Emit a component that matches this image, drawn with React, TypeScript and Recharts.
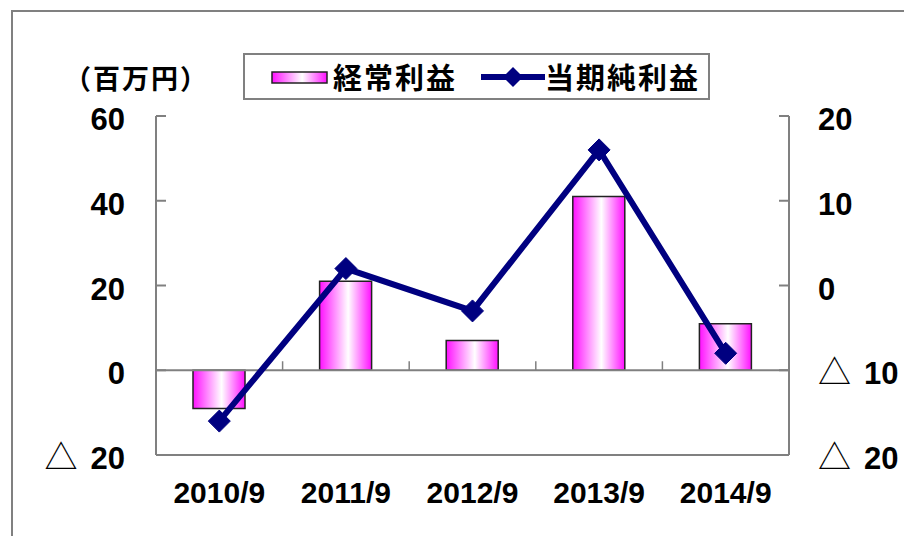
import React from 'react';
import { ComposedChart, Bar, Line, XAxis, YAxis, ReferenceLine } from 'recharts';

const categories = ['2010/9', '2011/9', '2012/9', '2013/9', '2014/9'];
const ordinaryProfit = [-9, 21, 7, 41, 11];
const netIncome = [-16, 2, -3, 16, -8];
const leftTicks = [-20, 0, 20, 40, 60];
const rightTicks = [-20, -10, 0, 10, 20];
const seriesNames = ['経常利益', '当期純利益'];
const unitLabel = '（百万円）';

const data = categories.map((c, i) => ({ name: c, ordinary: ordinaryProfit[i], net: netIncome[i] }));

const W = 904;
const H = 536;
const PLOT_LEFT = 156;
const PLOT_RIGHT = 789;
const PLOT_TOP = 116;
const PLOT_BOTTOM = 455;
const LEFT_MIN = leftTicks[0];
const LEFT_MAX = leftTicks[leftTicks.length - 1];
const ZERO_Y = PLOT_TOP + ((LEFT_MAX - 0) / (LEFT_MAX - LEFT_MIN)) * (PLOT_BOTTOM - PLOT_TOP);

const FRAME = '#808080';
const NAVY = '#000080';
const NUM_FONT = '"Liberation Sans", Arial, sans-serif';
const CJK_FONT = '"Noto Sans CJK JP", sans-serif';

const LEFT_MARGIN = 31;
const RIGHT_MARGIN = 29;

const TickLabel = ({ x, y, value, anchor }: { x: number; y: number; value: number; anchor: 'start' | 'end' }) => {
  const neg = value < 0;
  return (
    <text x={x} y={y + 3} dy="0.36em" textAnchor={anchor} fontFamily={NUM_FONT} fontWeight="bold" fontSize={31} fill="#000">
      {neg && (
        <tspan fontFamily={CJK_FONT} fontWeight="normal" fontSize={33}>
          △
        </tspan>
      )}
      <tspan dx={neg ? 13 : 0}>{Math.abs(value)}</tspan>
    </text>
  );
};

const LeftTick = (props: any) => {
  const { x, y, payload } = props;
  const edge = x + LEFT_MARGIN;
  return (
    <g>
      <line x1={edge} x2={edge + 10} y1={y} y2={y} stroke={FRAME} strokeWidth={2} />
      <TickLabel x={x} y={y} value={payload.value} anchor="end" />
    </g>
  );
};

const RightTick = (props: any) => {
  const { x, y, payload } = props;
  const edge = x - RIGHT_MARGIN;
  return (
    <g>
      <line x1={edge - 10} x2={edge} y1={y} y2={y} stroke={FRAME} strokeWidth={2} />
      <TickLabel x={x} y={y} value={payload.value} anchor="start" />
    </g>
  );
};

const BottomTick = (props: any) => {
  const { x, y, payload, index } = props;
  const half = payload && typeof payload.offset === 'number' && payload.offset > 0 ? payload.offset : (PLOT_RIGHT - PLOT_LEFT) / categories.length / 2;
  return (
    <g>
      {index > 0 && (
        <line x1={x - half} x2={x - half} y1={ZERO_Y - 9} y2={ZERO_Y} stroke={FRAME} strokeWidth={1.5} />
      )}
      <text x={x} y={y + 22} textAnchor="middle" fontFamily={NUM_FONT} fontWeight="bold" fontSize={30} fill="#000">
        {payload.value}
      </text>
    </g>
  );
};

const Diamond = (props: any) => {
  const { cx, cy, index } = props;
  if (cx == null || cy == null) return <g key={`d-${index}`} />;
  const r = 11;
  return (
    <polygon
      key={`d-${index}`}
      points={`${cx},${cy - r} ${cx + r},${cy} ${cx},${cy + r} ${cx - r},${cy}`}
      fill={NAVY}
      stroke={NAVY}
    />
  );
};

export default function App() {
  return (
    <div style={{ position: 'fixed', left: 0, top: 0, width: W, height: H, overflow: 'hidden', background: '#fff' }}>
      <div
        style={{
          position: 'absolute',
          left: 11,
          top: 10,
          width: W,
          height: H,
          borderTop: `2px solid ${FRAME}`,
          borderLeft: `2px solid ${FRAME}`,
          boxSizing: 'border-box',
        }}
      />
      <div style={{ position: 'absolute', left: 0, top: 0 }}>
        <ComposedChart
          width={W}
          height={H}
          data={data}
          margin={{ top: PLOT_TOP, bottom: 0, left: 0, right: 0 }}
          barSize={52}
        >
          <defs>
            <linearGradient id="barGrad" x1="0" y1="0" x2="1" y2="0">
              <stop offset="0" stopColor="#ff10ff" />
              <stop offset="0.55" stopColor="#ffffff" />
              <stop offset="1" stopColor="#ff10ff" />
            </linearGradient>
          </defs>
          <XAxis
            dataKey="name"
            xAxisId="bottom"
            orientation="bottom"
            height={H - PLOT_BOTTOM}
            axisLine={{ stroke: FRAME, strokeWidth: 2 }}
            tickLine={false}
            tickSize={0}
            tickMargin={26}
            tick={BottomTick}
            interval={0}
          />
          <XAxis
            dataKey="name"
            xAxisId="top"
            orientation="top"
            height={0}
            axisLine={{ stroke: FRAME, strokeWidth: 2 }}
            tickLine={false}
            tick={false}
          />
          <YAxis
            yAxisId="left"
            orientation="left"
            width={PLOT_LEFT}
            domain={[LEFT_MIN, LEFT_MAX]}
            ticks={leftTicks}
            axisLine={{ stroke: FRAME, strokeWidth: 2 }}
            tickLine={false}
            tickSize={0}
            tickMargin={LEFT_MARGIN}
            tick={LeftTick}
            interval={0}
          />
          <YAxis
            yAxisId="right"
            orientation="right"
            width={W - PLOT_RIGHT}
            domain={[rightTicks[0], rightTicks[rightTicks.length - 1]]}
            ticks={rightTicks}
            axisLine={{ stroke: FRAME, strokeWidth: 2 }}
            tickLine={false}
            tickSize={0}
            tickMargin={RIGHT_MARGIN}
            tick={RightTick}
            interval={0}
          />
          <ReferenceLine y={0} yAxisId="left" xAxisId="bottom" stroke={FRAME} strokeWidth={2} />
          <Bar
            dataKey="ordinary"
            name={seriesNames[0]}
            xAxisId="bottom"
            yAxisId="left"
            fill="url(#barGrad)"
            stroke="#222"
            strokeWidth={1.5}
            isAnimationActive={false}
          />
          <Line
            dataKey="net"
            name={seriesNames[1]}
            xAxisId="bottom"
            yAxisId="right"
            stroke={NAVY}
            strokeWidth={6}
            dot={Diamond}
            activeDot={false}
            isAnimationActive={false}
          />
        </ComposedChart>
      </div>
      <div
        style={{
          position: 'absolute',
          left: 64,
          top: 63,
          fontFamily: CJK_FONT,
          fontWeight: 'bold',
          fontSize: 27,
          letterSpacing: 2,
          lineHeight: '30px',
          color: '#000',
          whiteSpace: 'nowrap',
        }}
      >
        {unitLabel}
      </div>
      <div
        style={{
          position: 'absolute',
          left: 243,
          top: 53,
          width: 467,
          height: 47,
          border: `2px solid ${FRAME}`,
          boxSizing: 'border-box',
          background: '#fff',
          fontFamily: CJK_FONT,
          fontWeight: 'bold',
          fontSize: 29,
          letterSpacing: 2,
          color: '#000',
        }}
      >
        <svg style={{ position: 'absolute', left: 26, top: 15 }} width={58} height={16}>
          <defs>
            <linearGradient id="legGrad" x1="0" y1="0" x2="1" y2="0">
              <stop offset="0" stopColor="#ff10ff" />
              <stop offset="0.55" stopColor="#ffffff" />
              <stop offset="1" stopColor="#ff10ff" />
            </linearGradient>
          </defs>
          <rect x={1} y={2} width={55} height={11} fill="url(#legGrad)" stroke="#222" strokeWidth={1.5} />
        </svg>
        <div style={{ position: 'absolute', left: 88, top: 0, lineHeight: '43px', whiteSpace: 'nowrap' }}>
          {seriesNames[0]}
        </div>
        <svg style={{ position: 'absolute', left: 236, top: 8 }} width={64} height={28}>
          <line x1={0} x2={64} y1={14} y2={14} stroke={NAVY} strokeWidth={6} />
          <polygon points="32,4 42,14 32,24 22,14" fill={NAVY} />
        </svg>
        <div style={{ position: 'absolute', left: 300, top: 0, lineHeight: '43px', whiteSpace: 'nowrap' }}>
          {seriesNames[1]}
        </div>
      </div>
    </div>
  );
}
